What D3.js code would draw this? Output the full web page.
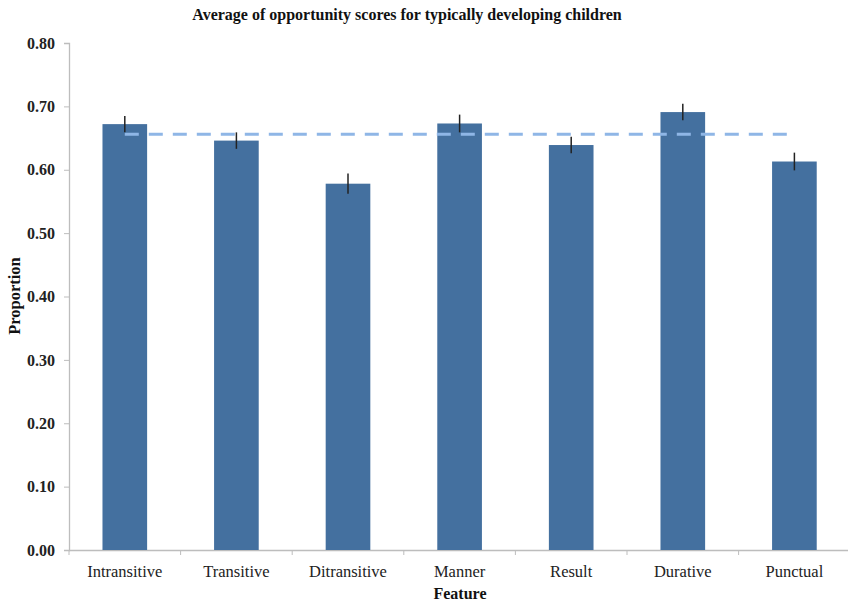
<!DOCTYPE html>
<html><head><meta charset="utf-8">
<script src="https://cdn.jsdelivr.net/npm/d3@7"></script>
<style>body{margin:0;background:#fff}svg{display:block}</style>
</head><body>
<script>
const categories = ["Intransitive","Transitive","Ditransitive","Manner","Result","Durative","Punctual"];
const values = [0.672, 0.646, 0.578, 0.673, 0.639, 0.691, 0.613];
const errors = [0.013, 0.013, 0.016, 0.014, 0.013, 0.013, 0.014];
const meanValue = 0.656;
const yTicks = [0,0.1,0.2,0.3,0.4,0.5,0.6,0.7,0.8];

const W = 848, H = 605;
const m = {left: 69, right: 0, top: 43, bottom: 55};
const svg = d3.select("body").append("svg").attr("width", W).attr("height", H);
const x = d3.scaleBand().domain(categories).range([m.left, m.left + 7*111.6]).paddingInner(0.6).paddingOuter(0.3);
const y = d3.scaleLinear().domain([0,0.8]).range([550, 43]);
const serif = "'Liberation Serif','Times New Roman',serif";

// y axis
const ya = svg.append("g").attr("transform", `translate(${m.left},0)`)
  .call(d3.axisLeft(y).tickValues(yTicks).tickFormat(d3.format(".2f")).tickSize(5).tickPadding(9));
ya.select(".domain").attr("stroke", "#bdbdbd").attr("stroke-width", 1.3);
ya.selectAll(".tick line").attr("stroke", "#bdbdbd");
ya.selectAll("text").attr("font-family", serif).attr("font-size", 16).attr("font-weight", "bold").attr("fill", "#222");

// x axis
const xa = svg.append("g").attr("transform", `translate(0,550)`)
  .call(d3.axisBottom(x).tickSize(0).tickPadding(15));
xa.select(".domain").attr("stroke", "#bdbdbd").attr("stroke-width", 1.3).attr("d", `M${m.left},0.5H848`);
xa.selectAll("text").attr("font-family", serif).attr("font-size", 16.5).attr("fill", "#222");
// x tick marks at band boundaries
const step = x.step();
const bounds = d3.range(0, 8).map(i => m.left + i * step);
svg.append("g").selectAll("line").data(bounds).join("line")
  .attr("x1", d => d).attr("x2", d => d).attr("y1", 550).attr("y2", 555)
  .attr("stroke", "#bdbdbd").attr("stroke-width", 1);

// bars
svg.append("g").selectAll("rect").data(categories).join("rect")
  .attr("x", d => x(d)).attr("width", x.bandwidth())
  .attr("y", (d,i) => y(values[i])).attr("height", (d,i) => 550 - y(values[i]))
  .attr("fill", "#44709f");

// mean line
svg.append("line")
  .attr("x1", x(categories[0]) + x.bandwidth()/2)
  .attr("x2", x(categories[6]) + x.bandwidth()/2)
  .attr("y1", y(meanValue)).attr("y2", y(meanValue))
  .attr("stroke", "#8fb6e6").attr("stroke-width", 3).attr("stroke-dasharray", "14,10");

// error bars
svg.append("g").selectAll("line").data(categories).join("line")
  .attr("x1", d => x(d) + x.bandwidth()/2).attr("x2", d => x(d) + x.bandwidth()/2)
  .attr("y1", (d,i) => y(values[i] + errors[i])).attr("y2", (d,i) => y(values[i] - errors[i]))
  .attr("stroke", "#222").attr("stroke-width", 1.5);

// title
svg.append("text").attr("x", 407).attr("y", 20).attr("text-anchor", "middle")
  .attr("font-family", serif).attr("font-size", 16).attr("font-weight", "bold").attr("fill", "#111")
  .text("Average of opportunity scores for typically developing children");
svg.append("text").attr("x", 460).attr("y", 599).attr("text-anchor", "middle")
  .attr("font-family", serif).attr("font-size", 16).attr("font-weight", "bold").attr("fill", "#111")
  .text("Feature");
svg.append("text").attr("transform", "translate(20,296) rotate(-90)").attr("text-anchor", "middle")
  .attr("font-family", serif).attr("font-size", 16.5).attr("font-weight", "bold").attr("fill", "#111")
  .text("Proportion");
</script>
</body></html>
